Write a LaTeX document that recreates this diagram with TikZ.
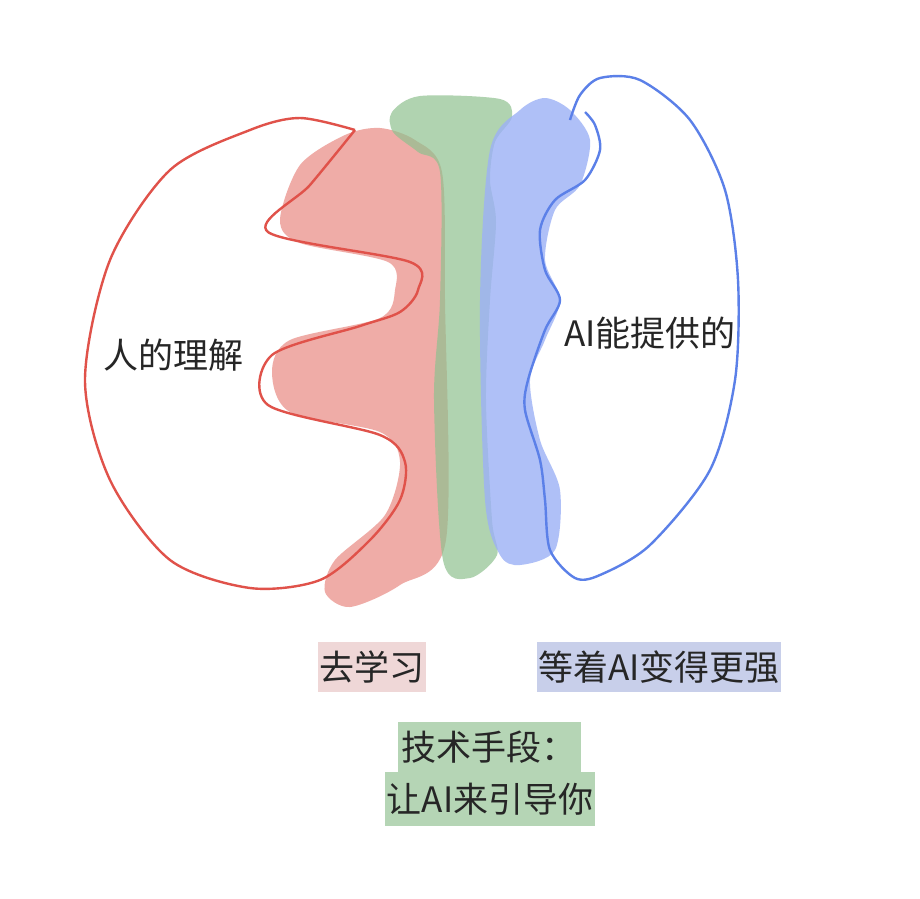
\documentclass[tikz,border=0pt]{standalone}
\usepackage{fontspec}
\newfontfamily\cjk{Noto Sans CJK SC}
\definecolor{rf}{HTML}{E98A83}
\definecolor{gf}{HTML}{8FC18F}
\definecolor{bf}{HTML}{9CB1F6}
\definecolor{ro}{HTML}{E0524A}
\definecolor{bo}{HTML}{5B80E8}
\definecolor{rl}{HTML}{EFD7D7}
\definecolor{bl}{HTML}{C8CFEA}
\definecolor{gl}{HTML}{B5D5B5}
\begin{document}
\begin{tikzpicture}[x=1pt,y=-1pt,
  lbl/.style={font=\cjk\fontsize{35}{42}\selectfont,inner sep=1.5pt,text=black!85}]
\useasboundingbox (0,0) rectangle (920,898);
\fill[white] (0,0) rectangle (920,898);
\fill[rf,opacity=0.7] plot[smooth cycle,tension=0.5] coordinates{
(300,165)(345,135)(380,128)(415,140)(442,172)(445,300)(446,540)(400,585)(350,607)(325,592)(335,560)(385,515)(400,462)(380,432)(290,412)(272,372)(290,340)(380,318)(395,290)(388,262)(300,243)(280,220)};
\fill[gf,opacity=0.7] plot[smooth cycle,tension=0.5] coordinates{
(392,112)(420,96)(500,99)(512,117)(495,142)(490,180)(496,222)(490,300)(486,400)(492,520)(497,555)(470,578)(443,560)(434,400)(440,300)(440,172)(418,152)(393,132)};
\fill[bf,opacity=0.8] plot[smooth cycle,tension=0.5] coordinates{
(520,110)(545,98)(570,110)(590,140)(580,185)(555,210)(545,260)(560,300)(545,340)(530,380)(540,440)(560,490)(555,550)(520,565)(500,555)(485,500)(480,300)(490,150)};
\draw[ro,line width=2.4pt,line join=round] plot[smooth,tension=0.5] coordinates{
(355,130)(310,185)(268,232)(410,262)(418,290)(400,312)(360,326)(272,355)(268,405)(380,435)(405,462)(400,500)(370,540)(320,580)(250,588)(170,560)(110,480)(85,380)(110,260)(170,170)(250,130)(300,118)(355,130)};
\draw[bo,line width=2.4pt,line join=round] plot[smooth,tension=0.5] coordinates{
(570,120)(580,95)(600,78)(640,80)(690,120)(725,190)(738,280)(735,380)(710,470)(650,545)(600,575)(575,578)(550,550)(545,500)(540,460)(525,410)(528,380)(545,330)(560,300)(545,270)(540,230)(555,200)(585,180)(600,150)(595,125)(585,112)};
\node[lbl] (h) at (173,355) {人的理解};
\node[lbl] (a) at (650,333) {AI能提供的};
\node[lbl,fill=rl,minimum height=50pt] (l1) at (372,667) {去学习};
\node[lbl,fill=bl,minimum height=50pt] (l2) at (659,667) {等着AI变得更强};
\node[lbl,fill=gl,minimum height=50pt,inner xsep=4pt] (l3) at (489,747) {技术手段：};
\node[lbl,fill=gl,minimum height=54pt] (l4) at (490,799) {让AI来引导你};
\end{tikzpicture}
\end{document}
